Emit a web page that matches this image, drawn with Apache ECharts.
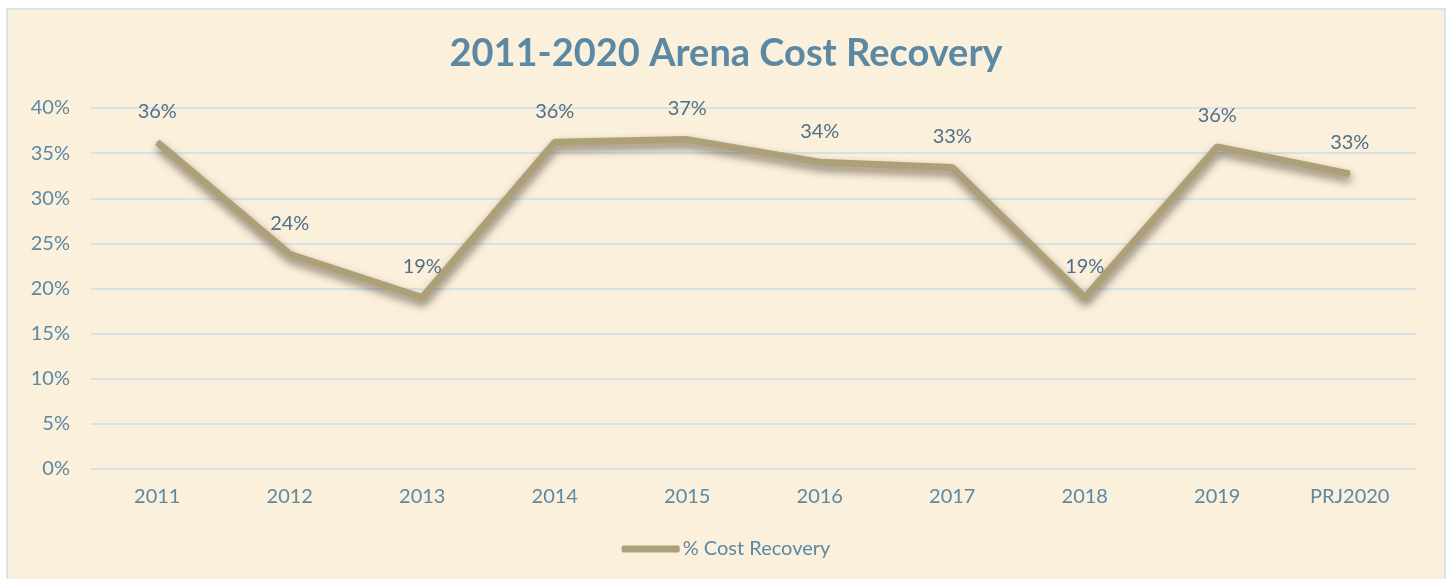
<!DOCTYPE html>
<html>
<head>
<meta charset="utf-8">
<script src="https://cdn.jsdelivr.net/npm/echarts@6/dist/echarts.min.js"></script>
<style>
  html, body { margin: 0; padding: 0; background: #fff; }
  #box {
    position: absolute; left: 6px; top: 8px; width: 1440px; height: 575px;
    border: 2px solid #d9e3ea; background: #fbf0dc; box-sizing: border-box;
  }
</style>
</head>
<body>
<div id="box"></div>
<script>
// categories and values (percent)
var years = ['2011', '2012', '2013', '2014', '2015', '2016', '2017', '2018', '2019', 'PRJ2020']
var costRecovery = [36.2, 23.8, 19.0, 36.2, 36.5, 34.0, 33.4, 19.0, 35.7, 32.7]
var seriesName = '% Cost Recovery'

var box = document.getElementById('box')
var chart = echarts.init(box)

var blue = '#5b88a3'
var lineColor = '#ada079'

var option = {
    animation: false,
    title: {
        text: '2011-2020 Arena Cost Recovery',
        left: 'center',
        top: 20,
        textStyle: {
            color: blue,
            fontSize: 38,
            fontWeight: 'bold',
            fontFamily: 'Lato'
        }
    },
    grid: {
        left: 83,
        right: 28,
        top: 98,
        bottom: 112
    },
    legend: {
        bottom: 17,
        left: 'center',
        data: [seriesName],
        icon: 'roundRect',
        itemWidth: 58,
        itemHeight: 7,
        itemGap: 4,
        textStyle: {
            color: blue,
            fontSize: 20,
            fontFamily: 'Lato',
            padding: [0, 0, 0, -2]
        }
    },
    xAxis: {
        type: 'category',
        data: years,
        boundaryGap: true,
        axisLine: { show: false },
        axisTick: { show: false },
        axisLabel: {
            color: blue,
            fontSize: 20,
            fontFamily: 'Lato',
            margin: 18
        }
    },
    yAxis: {
        type: 'value',
        min: 0,
        max: 40,
        interval: 5,
        axisLine: { show: false },
        axisTick: { show: false },
        axisLabel: {
            color: blue,
            fontSize: 20,
            fontFamily: 'Lato',
            margin: 21,
            formatter: '{value}%'
        },
        splitLine: {
            lineStyle: { color: '#d8e2e6', width: 2 }
        }
    },
    series: [{
        name: seriesName,
        type: 'line',
        data: costRecovery,
        symbol: 'circle',
        symbolSize: 2,
        showSymbol: true,
        lineStyle: {
            color: lineColor,
            width: 7,
            shadowColor: 'rgba(50,40,25,0.6)',
            shadowBlur: 9,
            shadowOffsetY: 5,
            shadowOffsetX: 1
        },
        itemStyle: { color: lineColor },
        label: {
            show: true,
            position: 'top',
            distance: 20,
            color: '#4f7089',
            fontSize: 20,
            fontFamily: 'Lato',
            formatter: function (p) {
                return Math.round(p.value) + '%'
            }
        }
    }]
}

chart.setOption(option)
</script>
</body>
</html>
